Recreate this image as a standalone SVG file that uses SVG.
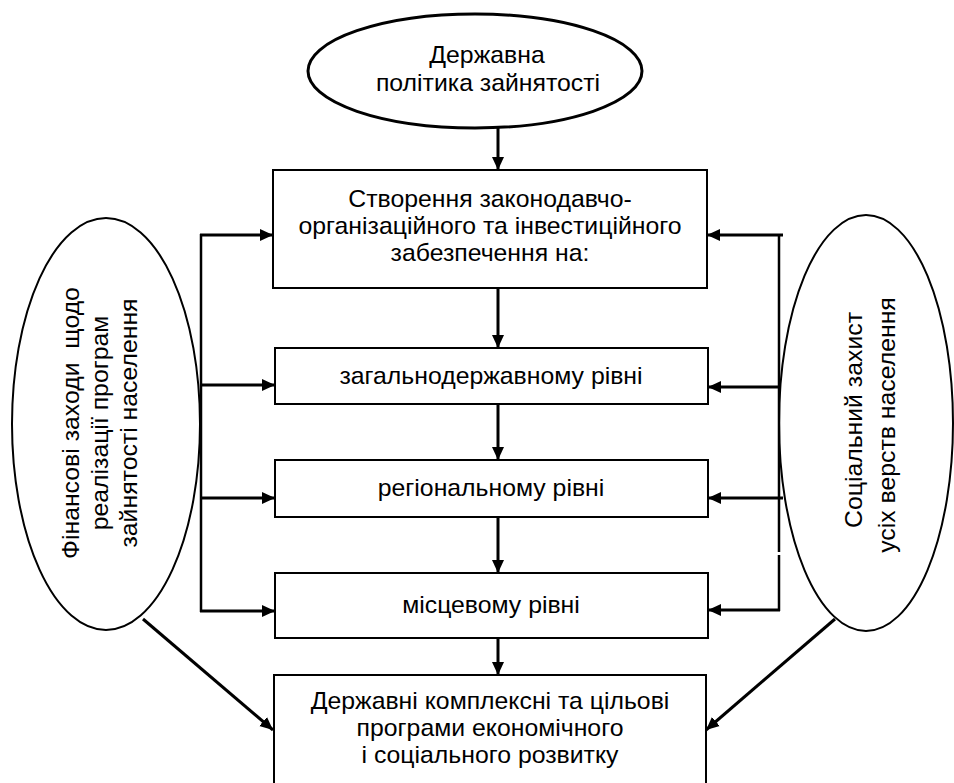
<svg xmlns="http://www.w3.org/2000/svg" width="954" height="783" viewBox="0 0 954 783">
<style>
.t{font-family:"Liberation Sans",Arial,sans-serif;font-size:24.8px;fill:#000;text-anchor:middle;white-space:pre}
.box{fill:#fff;stroke:#000;stroke-width:2}
.ell{fill:#fff;stroke:#000;stroke-width:2}
.c{fill:none;stroke:#000;stroke-width:3}
.bus{fill:none;stroke:#000;stroke-width:2.5}
</style>
<defs>
<marker id="ah" markerUnits="userSpaceOnUse" markerWidth="14" markerHeight="14" viewBox="0 0 14 14" refX="13" refY="7" orient="auto">
<path d="M0,1 L13,7 L0,13 Z" fill="#000"/>
</marker>
</defs>
<rect width="954" height="783" fill="#fff"/>
<g id="policy">
<ellipse cx="475" cy="71" rx="167" ry="57" fill="#fff" stroke="#000" stroke-width="3"/>
<text class="t" x="487" y="63">Державна</text>
<text class="t" x="488" y="91">політика зайнятості</text>
</g>
<g id="finance">
<ellipse class="ell" cx="106" cy="424" rx="94" ry="206"/>
<text class="t" transform="translate(79,423) rotate(-90)" x="0" y="0">Фінансові заходи  щодо</text>
<text class="t" transform="translate(108,423) rotate(-90)" x="0" y="0">реалізації програм</text>
<text class="t" transform="translate(137,423) rotate(-90)" x="0" y="0">зайнятості населення</text>
</g>
<g id="social">
<ellipse class="ell" cx="866" cy="423" rx="87" ry="208"/>
<text class="t" transform="translate(862,420) rotate(-90)" x="0" y="0">Соціальний захист</text>
<text class="t" transform="translate(895,425) rotate(-90)" x="0" y="0">усіх верств населення</text>
</g>
<g id="legal">
<rect class="box" x="273" y="170" width="434" height="118"/>
<text class="t" x="490" y="207">Створення законодавчо-</text>
<text class="t" x="490" y="234">організаційного та інвестиційного</text>
<text class="t" x="490" y="261">забезпечення на:</text>
</g>
<g id="national">
<rect class="box" x="275" y="348" width="433" height="56"/>
<text class="t" x="491" y="384">загальнодержавному рівні</text>
</g>
<g id="regional">
<rect class="box" x="275" y="460" width="433" height="57"/>
<text class="t" x="491" y="496">регіональному рівні</text>
</g>
<g id="local">
<rect class="box" x="275" y="573" width="433" height="65"/>
<text class="t" x="491" y="613">місцевому рівні</text>
</g>
<g id="programs">
<rect class="box" x="274" y="675" width="432" height="120"/>
<text class="t" x="490" y="709">Державні комплексні та цільові</text>
<text class="t" x="490" y="736">програми економічного</text>
<text class="t" x="490" y="763">і соціального розвитку</text>
</g>
<g id="connectors">
<line class="c" x1="498" y1="128" x2="498" y2="170" marker-end="url(#ah)"/>
<line class="c" x1="498" y1="288" x2="498" y2="348" marker-end="url(#ah)"/>
<line class="c" x1="498" y1="404" x2="498" y2="460" marker-end="url(#ah)"/>
<line class="c" x1="498" y1="517" x2="498" y2="573" marker-end="url(#ah)"/>
<line class="c" x1="498" y1="638" x2="498" y2="675" marker-end="url(#ah)"/>
<line class="bus" x1="201" y1="234" x2="201" y2="612"/>
<line class="c" x1="200" y1="235" x2="273" y2="235" marker-end="url(#ah)"/>
<line class="c" x1="200" y1="385" x2="275" y2="385" marker-end="url(#ah)"/>
<line class="c" x1="200" y1="498" x2="275" y2="498" marker-end="url(#ah)"/>
<line class="c" x1="200" y1="611" x2="275" y2="611" marker-end="url(#ah)"/>
<line class="bus" x1="779" y1="234" x2="779" y2="552"/>
<line class="bus" x1="779" y1="555" x2="779" y2="611"/>
<line class="c" x1="783" y1="235" x2="707" y2="235" marker-end="url(#ah)"/>
<line class="c" x1="780" y1="387" x2="708" y2="387" marker-end="url(#ah)"/>
<line class="c" x1="783" y1="498" x2="708" y2="498" marker-end="url(#ah)"/>
<line class="c" x1="780" y1="610" x2="708" y2="610" marker-end="url(#ah)"/>
<line class="c" x1="143" y1="619" x2="273" y2="730" marker-end="url(#ah)"/>
<line class="c" x1="835" y1="619" x2="706" y2="730" marker-end="url(#ah)"/>
</g>
</svg>
